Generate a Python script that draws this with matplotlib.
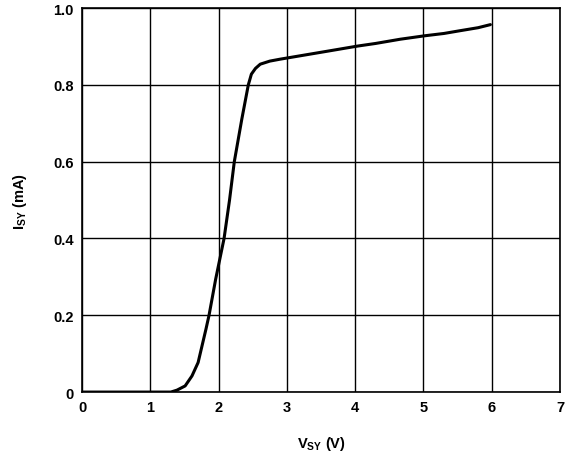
import matplotlib
matplotlib.use("Agg")
import matplotlib.pyplot as plt

plt.rcParams['font.family'] = ['Liberation Sans', 'DejaVu Sans']
plt.rcParams['font.weight'] = 'bold'
plt.rcParams['mathtext.fontset'] = 'custom'
plt.rcParams['mathtext.rm'] = 'Liberation Sans:bold'
plt.rcParams['mathtext.it'] = 'Liberation Sans:bold'
plt.rcParams['mathtext.bf'] = 'Liberation Sans:bold'

# supply voltage (V) vs supply current (mA)
v_sy = [0.0, 0.5, 1.0, 1.3, 1.39, 1.51, 1.61, 1.70, 1.815, 1.86, 1.957,
        2.08, 2.16, 2.23, 2.34, 2.435, 2.48, 2.54, 2.61, 2.75, 2.9, 3.2,
        3.6, 4.03, 4.3, 4.66, 5.02, 5.3, 5.53, 5.8, 5.98]
i_sy = [0.0, 0.0, 0.0, 0.0, 0.005, 0.016, 0.042, 0.077, 0.164, 0.2, 0.294,
        0.4, 0.5, 0.6, 0.711, 0.8, 0.828, 0.843, 0.854, 0.862, 0.867,
        0.876, 0.888, 0.901, 0.908, 0.919, 0.928, 0.934, 0.941, 0.949,
        0.957]

x_ticks = [0, 1, 2, 3, 4, 5, 6, 7]
y_ticks = [0, 0.2, 0.4, 0.6, 0.8, 1.0]
y_tick_labels = ['0', '0.2', '0.4', '0.6', '0.8', '1.0']

fig = plt.figure(figsize=(5.68, 4.56), dpi=100)
ax = fig.add_axes([0.1444, 0.138, 0.8416, 0.842])

ax.plot(v_sy, i_sy, color='black', linewidth=2.2, solid_capstyle='round',
        solid_joinstyle='round')

ax.set_xlim(0, 7)
ax.set_ylim(0, 1.0)
ax.set_xticks(x_ticks)
ax.set_yticks(y_ticks)
ax.set_yticklabels(y_tick_labels)
ax.tick_params(length=0, labelsize=10.5, pad=6)
ax.grid(True, color='black', linewidth=1.0)
for s in ax.spines.values():
    s.set_linewidth(1.2)

ax.set_xlabel('V$_{SY}$ (V)', fontsize=10.5, fontweight='bold', labelpad=14)
ax.set_ylabel('I$_{SY}$ (mA)', fontsize=10.5, fontweight='bold', labelpad=17)

fig.savefig('out.png', dpi=100)
